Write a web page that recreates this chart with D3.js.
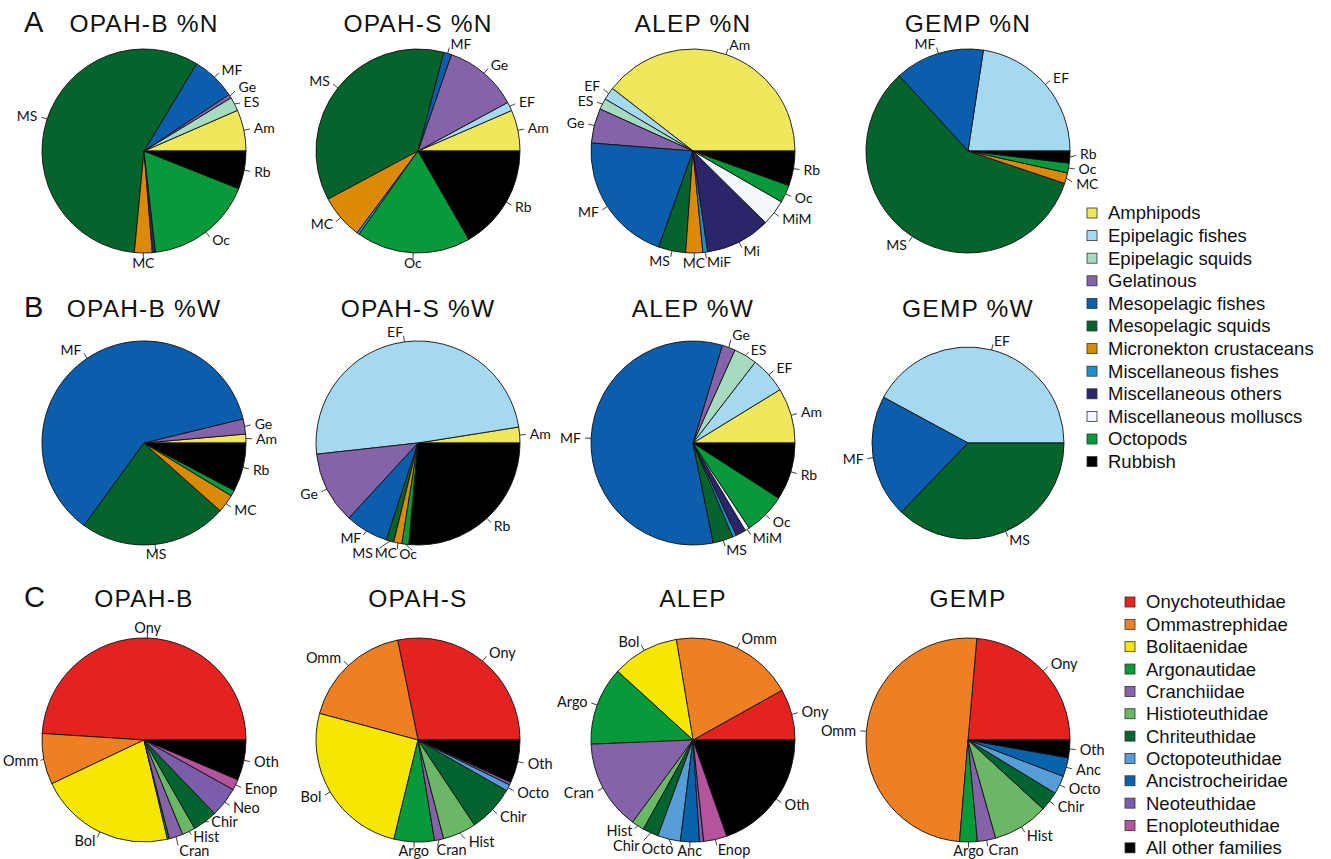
<!DOCTYPE html>
<html>
<head>
<meta charset="utf-8">
<script src="https://d3js.org/d3.v7.min.js"></script>
<style>
    body { margin: 0; background: #fff; }
    svg { display: block; }
    .panel-letter { font-family: "Liberation Sans", Arial, sans-serif; font-size: 29px; fill: #111; }
    .title { font-family: "Liberation Sans", Arial, sans-serif; font-size: 24.5px; letter-spacing: 1.2px; fill: #111; }
    .slice-label { font-family: Lato, "Open Sans", sans-serif; font-size: 14px; fill: #111; }
    .row-c .slice-label { font-size: 14.5px; }
    .legend-text { font-family: "Liberation Sans", Arial, sans-serif; font-size: 18.5px; fill: #111; }
</style>
</head>
<body>
<svg id="chart" width="1331" height="859"></svg>
<script>
(function () {
    "use strict";

    // prey categories (panels A and B)
    const preyCodes = ["Am", "EF", "ES", "Ge", "MF", "MS", "MC", "MiF", "Mi", "MiM", "Oc", "Rb"];
    const preyNames = [
        "Amphipods", "Epipelagic fishes", "Epipelagic squids", "Gelatinous", "Mesopelagic fishes",
        "Mesopelagic squids", "Micronekton crustaceans", "Miscellaneous fishes", "Miscellaneous others",
        "Miscellaneous molluscs", "Octopods", "Rubbish"
    ];
    const preyColors = [
        "#f0e85c", "#a4d9f1", "#a6dbc1", "#8463a9", "#0b5eab", "#05642b",
        "#dc8a06", "#1b8fd0", "#2b2669", "#f3f7fc", "#079a3b", "#000000"
    ];

    // cephalopod families (panel C)
    const familyCodes = ["Ony", "Omm", "Bol", "Argo", "Cran", "Hist", "Chir", "Octo", "Anc", "Neo", "Enop", "Oth"];
    const familyNames = [
        "Onychoteuthidae", "Ommastrephidae", "Bolitaenidae", "Argonautidae", "Cranchiidae", "Histioteuthidae",
        "Chriteuthidae", "Octopoteuthidae", "Ancistrocheiridae", "Neoteuthidae", "Enoploteuthidae", "All other families"
    ];
    const familyColors = [
        "#e42320", "#ee7f22", "#f5e700", "#079a3b", "#8563a8", "#6ab865",
        "#046430", "#579ed9", "#0763ab", "#7a5ea9", "#b3549c", "#000000"
    ];

    // %N by prey category, same order as preyCodes
    const opahB_N = [6.5, 0, 2.2, 0.6, 7.0, 56.9, 2.8, 0, 0.5, 0, 17.1, 6.0];
    const opahS_N = [6.5, 1.4, 0, 11.8, 1.25, 36.9, 7.0, 0.4, 0, 0, 18.1, 16.7];
    const alep_N = [39.5, 2.0, 1.75, 5.5, 20.8, 4.3, 2.7, 0.75, 10.3, 4.1, 2.8, 5.5];
    const gemp_N = [0, 22.6, 0, 0, 14.2, 58.1, 1.7, 0, 0, 0, 1.55, 1.9];

    // %W by prey category
    const opahB_W = [1.4, 0, 0, 2.4, 61.1, 23.4, 2.9, 0, 0, 0, 0.95, 7.7];
    const opahS_W = [2.5, 49.2, 0, 11.4, 6.8, 1.2, 1.3, 0, 0, 0, 1.1, 26.4];
    const alep_W = [8.75, 5.8, 3.7, 2.1, 57.8, 3.2, 0, 0.6, 1.6, 0.7, 6.6, 9.1];
    const gemp_W = [0, 42.1, 0, 0, 20.7, 37.2, 0, 0, 0, 0, 0, 0];

    // cephalopod families, same order as familyCodes
    const opahB_C = [49.1, 8.1, 21.7, 0.3, 2.2, 2.1, 3.9, 0, 0, 4.75, 1.7, 6.4];
    const opahS_C = [28.2, 17.6, 25.4, 6.4, 1.45, 5.3, 7.4, 1.0, 0, 0.45, 0, 6.8];
    const alep_C = [8.1, 19.5, 10.6, 12.4, 14.25, 2.0, 2.5, 3.6, 3.0, 0.65, 3.7, 19.6];
    const gemp_C = [23.6, 50.0, 0, 2.8, 2.9, 8.8, 3.1, 2.9, 3.0, 0, 0, 2.8];

    const preySet = { codes: preyCodes, names: preyNames, colors: preyColors };
    const familySet = { codes: familyCodes, names: familyNames, colors: familyColors };

    // layout
    const colX = [144, 418, 693, 968];
    const rowY = [151, 443, 740];
    const titleY = [32, 317, 607];
    const panelLetters = ["A", "B", "C"];

    const charts = [
        { title: "OPAH-B %N", values: opahB_N, hidden: ["Mi"], set: preySet, row: 0, col: 0, r: 102 },
        { title: "OPAH-S %N", values: opahS_N, hidden: ["MiF"], set: preySet, row: 0, col: 1, r: 102 },
        { title: "ALEP %N", values: alep_N, hidden: [], set: preySet, row: 0, col: 2, r: 102 },
        { title: "GEMP %N", values: gemp_N, hidden: [], set: preySet, row: 0, col: 3, r: 102 },
        { title: "OPAH-B %W", values: opahB_W, hidden: ["Oc"], set: preySet, row: 1, col: 0, r: 102 },
        { title: "OPAH-S %W", values: opahS_W, hidden: [], set: preySet, row: 1, col: 1, r: 102 },
        { title: "ALEP %W", values: alep_W, hidden: ["MiF", "Mi"], set: preySet, row: 1, col: 2, r: 102 },
        { title: "GEMP %W", values: gemp_W, hidden: [], set: preySet, row: 1, col: 3, r: 96 },
        { title: "OPAH-B", values: opahB_C, hidden: ["Argo"], set: familySet, row: 2, col: 0, r: 102 },
        { title: "OPAH-S", values: opahS_C, hidden: ["Neo"], set: familySet, row: 2, col: 1, r: 102 },
        { title: "ALEP", values: alep_C, hidden: ["Neo"], set: familySet, row: 2, col: 2, r: 102 },
        { title: "GEMP", values: gemp_C, hidden: [], set: familySet, row: 2, col: 3, r: 102 }
    ];

    const svg = d3.select("#chart");

    // panel letters
    svg.selectAll(".panel-letter")
        .data(panelLetters)
        .join("text")
        .attr("class", "panel-letter")
        .attr("x", 24)
        .attr("y", (d, i) => titleY[i])
        .text((d) => d);

    // pie layout: start at 3 o'clock and go counter-clockwise (like R's pie())
    const pie = d3.pie()
        .sort(null)
        .value((d) => d.value)
        .startAngle(Math.PI / 2)
        .endAngle(Math.PI / 2 - 2 * Math.PI);

    /**
     * Function that draws one pie with its title and slice labels
     */
    let drawPie = (chart) => {
        const cx = colX[chart.col];
        const cy = rowY[chart.row];
        const r = chart.r;
        const set = chart.set;

        const items = chart.values
            .map((v, i) => ({ value: v, code: set.codes[i], color: set.colors[i] }))
            .filter((d) => d.value > 0);

        svg.append("text")
            .attr("class", "title")
            .attr("x", cx)
            .attr("y", titleY[chart.row])
            .attr("text-anchor", "middle")
            .text(chart.title);

        const g = svg.append("g")
            .attr("class", chart.row === 2 ? "row-c" : "row-ab")
            .attr("transform", `translate(${cx}, ${cy})`);

        const arc = d3.arc().innerRadius(0).outerRadius(r);
        const arcs = pie(items);

        g.selectAll(".slice")
            .data(arcs)
            .join("path")
            .attr("class", "slice")
            .attr("d", arc)
            .attr("fill", (d) => d.data.color)
            .attr("stroke", "#111")
            .attr("stroke-width", 0.9)
            .attr("stroke-linejoin", "round");

        // labels, R style: tick from 1.0r to 1.05r, text at 1.1r
        const labelled = arcs.filter((d) => chart.hidden.indexOf(d.data.code) < 0);
        const labels = labelled.map((d) => {
            const mid = (d.startAngle + d.endAngle) / 2;
            const ux = Math.sin(mid);
            const uy = -Math.cos(mid);
            let anchor = ux < 0 ? "end" : "start";
            if (Math.abs(ux) < 0.12) anchor = "middle";
            return {
                code: d.data.code,
                ux: ux,
                uy: uy,
                x: ux * r * 1.1,
                y: uy * r * 1.1,
                x0: ux * r * 1.1,
                y0: uy * r * 1.1,
                anchor: anchor,
                w: 0
            };
        });

        const texts = g.selectAll(".slice-label")
            .data(labels)
            .join("text")
            .attr("class", "slice-label")
            .attr("x", (d) => d.x)
            .attr("y", (d) => d.y)
            .attr("dy", "0.35em")
            .attr("text-anchor", (d) => d.anchor)
            .text((d) => d.code);

        texts.each(function (d) {
            d.w = this.getComputedTextLength();
        });

        let left = (d) => (d.anchor === "end" ? d.x - d.w : d.anchor === "middle" ? d.x - d.w / 2 : d.x);

        // push overlapping labels apart (vertically, or sideways near the top/bottom)
        const lineH = chart.row === 2 ? 14.5 : 15;
        const maxY = 851 - cy;
        const minLeft = 3 - cx;
        for (let iter = 0; iter < 80; iter++) {
            for (let a = 0; a < labels.length; a++) {
                for (let b = a + 1; b < labels.length; b++) {
                    const p = labels[a];
                    const q = labels[b];
                    const p0 = left(p);
                    const q0 = left(q);
                    const overlapX = Math.min(p0 + p.w, q0 + q.w) - Math.max(p0, q0) + 2;
                    const dy = q.y - p.y;
                    if (overlapX > 0 && Math.abs(dy) < lineH) {
                        if (Math.abs(p.uy) > 0.9 && Math.abs(q.uy) > 0.9) {
                            const s = q0 >= p0 ? 1 : -1;
                            p.x -= (s * overlapX) / 2 + 0.01 * s;
                            q.x += (s * overlapX) / 2 + 0.01 * s;
                        } else {
                            const push = (lineH - Math.abs(dy)) / 2 + 0.01;
                            const s = dy >= 0 ? 1 : -1;
                            p.y -= s * push;
                            q.y += s * push;
                        }
                    }
                }
            }
            labels.forEach((d) => {
                if (d.y > maxY) d.y = maxY;
                if (left(d) < minLeft) d.x += minLeft - left(d);
            });
        }

        texts.attr("x", (d) => d.x).attr("y", (d) => d.y);

        g.selectAll(".tick")
            .data(labels)
            .join("line")
            .attr("class", "tick")
            .attr("x1", (d) => d.ux * r)
            .attr("y1", (d) => d.uy * r)
            .attr("x2", (d) => d.ux * r * 1.06 + (d.x - d.x0) * 0.6)
            .attr("y2", (d) => d.uy * r * 1.06 + (d.y - d.y0) * 0.6)
            .attr("stroke", "#111")
            .attr("stroke-width", 0.8);
    };

    charts.forEach(drawPie);

    /**
     * Function that draws a legend column
     */
    let drawLegend = (set, x, y0, step) => {
        const lg = svg.append("g").attr("transform", `translate(${x}, ${y0})`);
        const rows = lg.selectAll(".legend-row")
            .data(set.names)
            .join("g")
            .attr("class", "legend-row")
            .attr("transform", (d, i) => `translate(0, ${i * step})`);

        rows.append("rect")
            .attr("x", 0)
            .attr("y", -5)
            .attr("width", 10)
            .attr("height", 10)
            .attr("fill", (d, i) => set.colors[i])
            .attr("stroke", "#333")
            .attr("stroke-width", 0.8);

        rows.append("text")
            .attr("class", "legend-text")
            .attr("x", 21)
            .attr("y", 0)
            .attr("dy", "0.35em")
            .text((d) => d);
    };

    drawLegend(preySet, 1087, 213, 22.6);
    drawLegend(familySet, 1125, 602, 22.35);
})();
</script>
</body>
</html>
